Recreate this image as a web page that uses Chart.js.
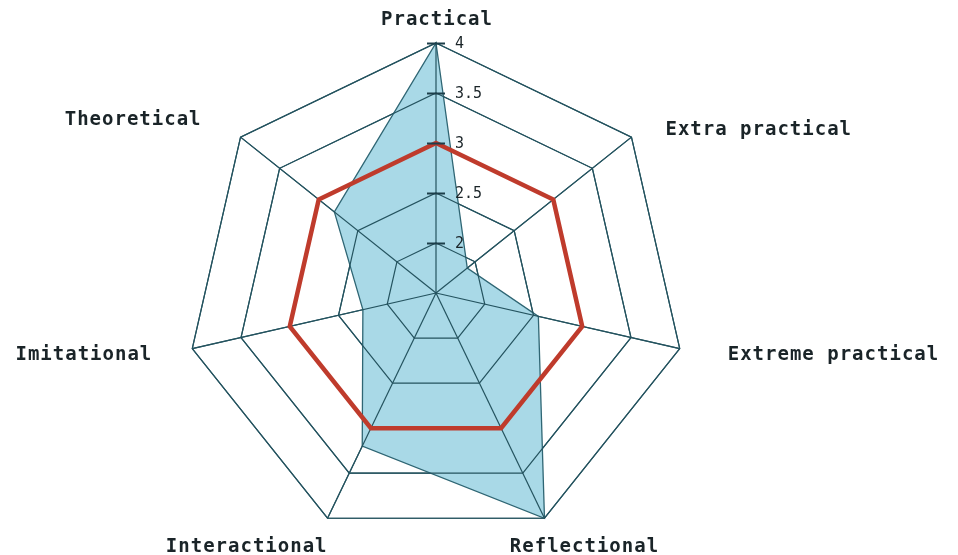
<!DOCTYPE html>
<html><head><meta charset="utf-8">
<script src="https://cdn.jsdelivr.net/npm/chart.js@4.4.1/dist/chart.umd.min.js"></script>
<style>html,body{margin:0;padding:0;background:#fff;}#wrap{width:958px;height:555px;position:relative;}</style>
</head><body><div id="wrap"><canvas id="c"></canvas></div>
<script>
const categories = ['Practical','Extra practical','Extreme practical','Reflectional','Interactional','Imitational','Theoretical'];
const redValues = [3, 3, 3, 3, 3, 3, 3];
const blueValues = [4, 1.9, 2.55, 4, 3.2, 2.25, 2.8];
const tickValues = [2, 2.5, 3, 3.5, 4];
const tickLabels = ['2', '2.5', '3', '3.5', '4'];

const GRID = '#24535f';
const TEXT = '#1a2428';
// label placement relative to the outer vertex of each axis
const labelPlace = [
  {dx: 1, dy: -23, align: 'center'},
  {dx: 34, dy: -7, align: 'left'},
  {dx: 48, dy: 6, align: 'left'},
  {dx: 40, dy: 29, align: 'center'},
  {dx: 0, dy: 29, align: 'right'},
  {dx: -40, dy: 6, align: 'right'},
  {dx: -39, dy: -17, align: 'right'}
];

const decor = {
  id: 'decor',
  beforeDatasetDraw(chart, args) {
    if (args.index === 1) {
      chart.scales.r.drawGrid();
    }
  },
  afterDraw(chart) {
    const s = chart.scales.r;
    const ctx = chart.ctx;
    ctx.save();
    ctx.strokeStyle = '#1d3f4a';
    ctx.lineWidth = 2;
    ctx.fillStyle = TEXT;
    ctx.font = '15px "DejaVu Sans Mono"';
    ctx.textAlign = 'left';
    ctx.textBaseline = 'middle';
    tickValues.forEach((v, i) => {
      const p = s.getPointPositionForValue(0, v);
      ctx.beginPath();
      ctx.moveTo(p.x - 9, p.y + 0.5);
      ctx.lineTo(p.x + 9, p.y + 0.5);
      ctx.stroke();
      ctx.fillText(tickLabels[i], p.x + 19, p.y + 1);
    });
    ctx.font = 'bold 19px "DejaVu Sans Mono"';
    try { ctx.letterSpacing = '1px'; } catch (e) {}
    ctx.fillStyle = TEXT;
    categories.forEach((name, i) => {
      const p = s.getPointPositionForValue(i, s.max);
      const L = labelPlace[i];
      ctx.textAlign = L.align;
      ctx.fillText(name, p.x + L.dx, p.y + L.dy);
    });
    ctx.restore();
  }
};

new Chart(document.getElementById('c'), {
  type: 'radar',
  data: {
    labels: categories,
    datasets: [
      {
        label: 'Series 2',
        data: blueValues,
        backgroundColor: '#a9d9e7',
        borderColor: '#2f6674',
        borderWidth: 1.3,
        fill: true,
        pointRadius: 0,
        order: 2
      },
      {
        label: 'Series 1',
        data: redValues,
        backgroundColor: 'rgba(0,0,0,0)',
        borderColor: '#bf3b2c',
        borderWidth: 4.5,
        fill: false,
        pointRadius: 0,
        order: 1
      }
    ]
  },
  options: {
    responsive: true,
    maintainAspectRatio: false,
    animation: false,
    layout: {padding: {left: 186, right: 272, top: 43, bottom: 12}},
    plugins: {legend: {display: false}, tooltip: {enabled: false}},
    scales: {
      r: {
        min: 1.5,
        max: 4,
        ticks: {stepSize: 0.5, display: false},
        grid: {color: GRID, lineWidth: 1.2},
        angleLines: {color: GRID, lineWidth: 1.2},
        pointLabels: {display: false}
      }
    }
  },
  plugins: [decor]
});
</script>
</body></html>
